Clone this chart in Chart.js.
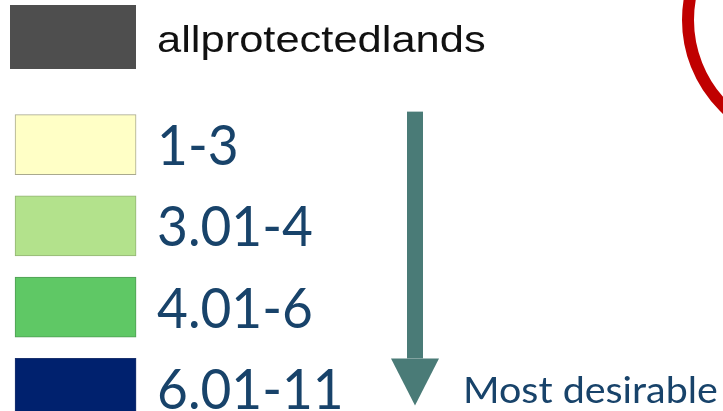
<!DOCTYPE html>
<html><head><meta charset="utf-8">
<script src="https://cdn.jsdelivr.net/npm/chart.js@4.4.1/dist/chart.umd.min.js"></script>
<style>html,body{margin:0;padding:0;background:#fff;overflow:hidden}#wrap{width:723px;height:429px;position:relative}</style>
</head><body><div id="wrap"><canvas id="c"></canvas></div>
<script>
// ---- data ----
const layerName = 'allprotectedlands';
const layerColor = '#4e4e4e';
const classLabels = ['1-3', '3.01-4', '4.01-6', '6.01-11'];
const classColors = ['#ffffc6', '#b3e28c', '#5fc865', '#00216e'];
const classBorders = ['#a9a98e', '#93b374', '#4f9c55', '#1b326e'];
const swatchValues = [1, 1, 1, 1];
const noteText = 'Most desirable';

const TEXT_BLUE = '#18436a';
const ARROW = '#4a7b77';

const deco = {
  id: 'deco',
  afterDatasetsDraw(chart) {
    const ctx = chart.ctx;
    const meta = chart.getDatasetMeta(0);
    ctx.save();
    ctx.textBaseline = 'alphabetic';
    ctx.textAlign = 'left';
    // legend text (stretched, drawn at the legend item's hitbox)
    const hb = chart.legend.legendHitBoxes[0];
    const lo = chart.options.plugins.legend.labels;
    ctx.save();
    ctx.fillStyle = '#111111';
    ctx.translate(hb.left + lo.boxWidth + 21, hb.top + 47);
    ctx.scale(1.175, 1);
    ctx.font = '37px "Liberation Sans"';
    ctx.fillText(layerName, 0, 0);
    ctx.restore();

    ctx.fillStyle = TEXT_BLUE;
    meta.data.forEach((bar, i) => {
      ctx.save();
      ctx.translate(bar.x + 21, bar.y + 20.5);
      ctx.scale(0.95, 1);
      ctx.font = '56px Lato';
      ctx.fillText(classLabels[i], 0, 0);
      ctx.restore();
    });
    // arrow
    const first = meta.data[0], last = meta.data[meta.data.length - 1];
    const cx = 415;
    const top = first.y - 33, headTop = last.y - 30, tip = last.y + 17;
    ctx.fillStyle = ARROW;
    ctx.fillRect(cx - 8, top, 16, headTop - top);
    ctx.beginPath();
    ctx.moveTo(cx - 24, headTop);
    ctx.lineTo(cx + 24, headTop);
    ctx.lineTo(cx, tip);
    ctx.closePath();
    ctx.fill();
    // note
    ctx.save();
    ctx.fillStyle = TEXT_BLUE;
    ctx.translate(463, last.y + 15);
    ctx.scale(1.095, 1);
    ctx.font = '36px Lato';
    ctx.fillText(noteText, 0, 0);
    ctx.restore();
    ctx.restore();
  },
  afterDraw(chart) {
    const ctx = chart.ctx;
    ctx.save();
    ctx.strokeStyle = '#c00000';
    ctx.lineWidth = 12;
    ctx.beginPath();
    ctx.arc(810, 20, 122, 0, Math.PI * 2);
    ctx.stroke();
    ctx.restore();
  }
};

new Chart(document.getElementById('c'), {
  type: 'bar',
  data: {
    labels: classLabels,
    datasets: [{
      data: swatchValues,
      backgroundColor: classColors,
      borderColor: classBorders,
      borderWidth: 1,
      borderSkipped: false,
      barThickness: 60
    }]
  },
  options: {
    indexAxis: 'y',
    responsive: true,
    maintainAspectRatio: false,
    animation: false,
    layout: { padding: { left: 5, right: 0, top: 0, bottom: 0 } },
    scales: {
      x: {
        type: 'linear', min: -0.083, max: 5.85, position: 'top',
        grid: { display: false }, border: { display: false },
        ticks: { display: false },
        afterFit(s) { s.height = 25; }
      },
      y: { display: false, offset: true }
    },
    plugins: {
      tooltip: { enabled: false },
      legend: {
        display: true, position: 'top', align: 'start',
        onClick: null,
        labels: {
          boxWidth: 126, boxHeight: 64, padding: 5,
          color: 'rgba(0,0,0,0)',
          font: { family: 'Liberation Sans', size: 37 },
          generateLabels: () => [{
            text: layerName, fillStyle: layerColor, strokeStyle: layerColor,
            lineWidth: 0, hidden: false, fontColor: 'rgba(0,0,0,0)', datasetIndex: 0
          }]
        }
      }
    }
  },
  plugins: [deco]
});
</script>
</body></html>
